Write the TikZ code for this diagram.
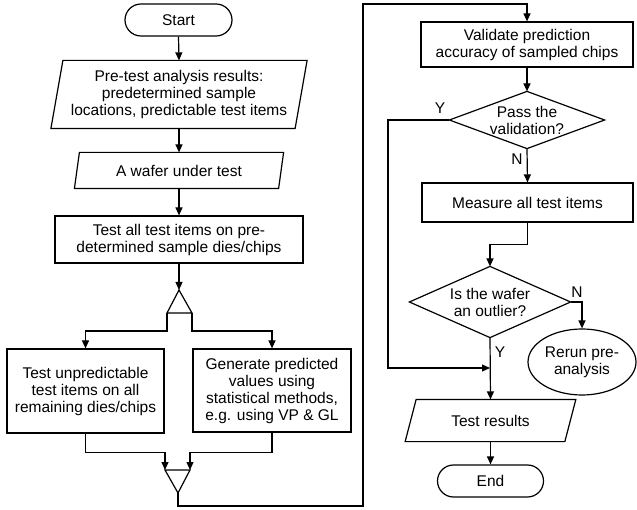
\documentclass[tikz,border=0pt]{standalone}
\usepackage{fontspec}
\setmainfont{Liberation Sans}
\usetikzlibrary{arrows.meta,shapes.geometric}
\begin{document}
\begin{tikzpicture}[x=1pt,y=-1pt,line width=1.2pt,
  every node/.style={font=\fontsize{15.5}{17}\selectfont,align=center,inner sep=0pt},
  bx/.style={draw,rectangle},
  ghost/.style={rectangle},
  term/.style={draw,rectangle,rounded corners=16pt},
  oval/.style={draw,ellipse},
  arr/.style={-{Triangle[length=8pt,width=7pt]}},
  lbl/.style={font=\fontsize{15.5}{17}\selectfont}]
\useasboundingbox (0,0) rectangle (637,510);

% left column
\node[term,minimum width=107pt,minimum height=32pt] (start) at (178.5,20) {Start};
\node[ghost,minimum width=243pt,minimum height=67pt] (p1) at (179,94.5) {Pre-test analysis results:\\predetermined sample\\locations, predictable test items};
\draw ([xshift=6pt]p1.north west) -- ([xshift=6pt]p1.north east) -- ([xshift=-6pt]p1.south east) -- ([xshift=-6pt]p1.south west) -- cycle;
\node[ghost,minimum width=203pt,minimum height=35pt] (p2) at (179,170.5) {A wafer under test};
\draw ([xshift=2.5pt]p2.north west) -- ([xshift=2.5pt]p2.north east) -- ([xshift=-2.5pt]p2.south east) -- ([xshift=-2.5pt]p2.south west) -- cycle;
\node[bx,minimum width=248pt,minimum height=47pt] (r3) at (179,239.5) {Test all test items on pre-\\determined sample dies/chips};

\coordinate (t1) at (179,290);
\coordinate (t1l) at (167,313);
\coordinate (t1r) at (192,313);
\draw (t1) -- (t1r) -- (t1l) -- cycle;

\node[bx,minimum width=157pt,minimum height=84pt] (L) at (85.5,391) {Test unpredictable\\test items on all\\remaining dies/chips};
\node[bx,minimum width=158pt,minimum height=83pt] (R) at (272,390.5) {Generate predicted\\values using\\statistical methods,\\e.g. using VP \& GL};

\coordinate (t2) at (178,493);
\coordinate (t2l) at (165,470);
\coordinate (t2r) at (190,470);
\draw (t2l) -- (t2r) -- (t2) -- cycle;

\coordinate (w1) at (178,506);
\coordinate (w2) at (363,506);
\coordinate (w3) at (363,4);

% right column
\node[bx,minimum width=212pt,minimum height=45pt] (V) at (527,44.5) {Validate prediction\\accuracy of sampled chips};
\node[ghost,minimum width=154pt,minimum height=56pt] (d1) at (527,120) {Pass the\\validation?};
\draw (d1.north) -- (d1.east) -- (d1.south) -- (d1.west) -- cycle;
\node[bx,minimum width=211pt,minimum height=39pt] (M) at (527.5,202.5) {Measure all test items};
\node[ghost,minimum width=160pt,minimum height=70pt] (d2) at (490,302) {Is the wafer\\an outlier?};
\draw (d2.north) -- (d2.east) -- (d2.south) -- (d2.west) -- cycle;
\node[oval,minimum width=108pt,minimum height=66pt] (ell) at (582,362) {Rerun pre-\\analysis};
\node[ghost,minimum width=158.5pt,minimum height=41pt] (tr) at (490.5,420.5) {Test results};
\draw ([xshift=5.5pt]tr.north west) -- ([xshift=5.5pt]tr.north east) -- ([xshift=-5.5pt]tr.south east) -- ([xshift=-5.5pt]tr.south west) -- cycle;
\node[term,minimum width=106pt,minimum height=32pt] (end) at (490.5,481) {End};

\coordinate (y1) at (388,120);
\coordinate (y2) at (388,368);
\coordinate (j) at (490,368);

% labels
\node[lbl] (ly1) at (440,108) {Y};
\node[lbl] (ln1) at (517,159) {N};
\node[lbl] (ln2) at (577,292) {N};
\node[lbl] (ly2) at (500,352) {Y};

% connectors
\draw[arr] (start.south) -- (p1.north);
\draw[arr] (p1.south) -- (p2.north);
\draw[arr] (p2.south) -- (r3.north);
\draw[arr] (r3.south) -- (t1);
\draw[arr] (t1l) -- ++(0,18) -| (L.north);
\draw[arr] (t1r) -- ++(0,18) -| (R.north);
\draw[arr] (L.south) -- ++(0,19) -| (t2l);
\draw[arr] (R.south) -- ++(0,19.5) -| (t2r);
\draw[arr] (t2) -- (w1) -- (w2) -- (w3) -| (V.north);
\draw[arr] (V.south) -- (d1.north);
\draw[arr] (d1.south) -- (M.north);
\draw[arr] (d1.west) -- (y1) -- (y2) -- (j);
\draw[arr] (M.south) -- ++(0,22) -| (d2.north);
\draw[arr] (d2.east) -| (ell.north);
\draw[arr] (d2.south) -- (tr.north);
\draw[arr] (tr.south) -- (end.north);
\end{tikzpicture}
\end{document}
